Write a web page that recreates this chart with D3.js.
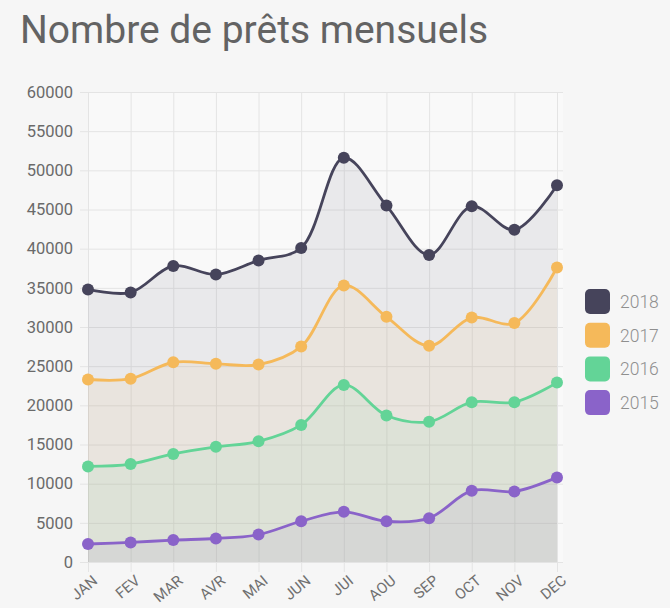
<!DOCTYPE html>
<html>
<head>
<meta charset="utf-8">
<script src="https://cdn.jsdelivr.net/npm/d3@7"></script>
<style>
  html, body { margin: 0; padding: 0; background: #f6f6f6; }
  svg { display: block; }
  text { font-family: Roboto, "Noto Sans", sans-serif; }
</style>
</head>
<body>
<svg id="chart" width="670" height="608"></svg>
<script>
const months = ["JAN","FEV","MAR","AVR","MAI","JUN","JUI","AOU","SEP","OCT","NOV","DEC"];
const yTicks = [0,5000,10000,15000,20000,25000,30000,35000,40000,45000,50000,55000,60000];
const seriesNames = ["2018","2017","2016","2015"];
const v2018 = [34800, 34400, 37800, 36700, 38500, 40100, 51600, 45500, 39200, 45400, 42400, 48100];
const v2017 = [23300, 23400, 25500, 25300, 25200, 27500, 35300, 31300, 27600, 31200, 30500, 37600];
const v2016 = [12200, 12500, 13800, 14700, 15400, 17500, 22600, 18700, 17900, 20400, 20400, 22900];
const v2015 = [2300, 2500, 2800, 3000, 3500, 5200, 6400, 5200, 5600, 9100, 9000, 10800];
const seriesColors = ["#46445b", "#f5b95a", "#63d497", "#8a63c9"];
const chartTitle = "Nombre de prêts mensuels";

const series = [v2018, v2017, v2016, v2015].map((vals, i) => ({
  name: seriesNames[i], color: seriesColors[i], values: vals
}));

const svg = d3.select("#chart");
const mLeft = 88, mRight = 557, mTop = 92, mBottom = 562;

const x = d3.scalePoint().domain(months).range([mLeft, mRight]);
const y = d3.scaleLinear().domain([0, 60000]).range([mBottom, mTop]);

// plot background
svg.append("rect")
  .attr("x", mLeft).attr("y", mTop)
  .attr("width", 563 - mLeft).attr("height", mBottom - mTop)
  .attr("fill", "#f9f9f9");

// title
svg.append("text")
  .attr("x", 20).attr("y", 43)
  .attr("font-size", 39)
  .attr("fill", "#636363")
  .text(chartTitle);

// y axis + horizontal grid
const gridRight = 563;
const yAxis = svg.append("g")
  .attr("transform", `translate(${gridRight},0)`)
  .call(d3.axisLeft(y).tickValues(yTicks).tickSizeInner(gridRight - 80).tickSizeOuter(0).tickPadding(7).tickFormat(d3.format("d")));
yAxis.select(".domain").remove();
yAxis.selectAll("line").attr("stroke", "#e4e4e4");
yAxis.selectAll("text").attr("font-size", 16.5).attr("fill", "#6a6a6a").attr("font-family", "Roboto, sans-serif");

// x axis + vertical grid
const xAxis = svg.append("g")
  .attr("transform", `translate(0,${mTop})`)
  .call(d3.axisBottom(x).tickSizeInner(572 - mTop).tickSizeOuter(0).tickPadding(0));
xAxis.select(".domain").remove();
xAxis.selectAll("line").attr("stroke", "#e4e4e4");
xAxis.selectAll("text")
  .attr("y", null).attr("dy", "0.72em")
  .attr("text-anchor", "end")
  .attr("transform", `translate(3,${574 - mTop}) rotate(-40)`)
  .attr("font-size", 15).attr("fill", "#707070").attr("font-family", "Roboto, sans-serif");

const curve = d3.curveCatmullRom.alpha(0.5);
const area = d3.area()
  .x((d, i) => x(months[i]))
  .y0(y(0))
  .y1(d => y(d))
  .curve(curve);
const line = d3.line()
  .x((d, i) => x(months[i]))
  .y(d => y(d))
  .curve(curve);

// fills
svg.append("g").selectAll("path")
  .data(series)
  .join("path")
  .attr("d", s => area(s.values))
  .attr("fill", s => s.color)
  .attr("fill-opacity", 0.085);

// lines
svg.append("g").selectAll("path")
  .data(series)
  .join("path")
  .attr("d", s => line(s.values))
  .attr("fill", "none")
  .attr("stroke", s => s.color)
  .attr("stroke-width", 2.8);

// points
series.forEach(s => {
  svg.append("g").selectAll("circle")
    .data(s.values)
    .join("circle")
    .attr("cx", (d, i) => x(months[i]))
    .attr("cy", d => y(d))
    .attr("r", 6)
    .attr("fill", s.color);
});

// legend
const legend = svg.append("g");
series.forEach((s, i) => {
  const cy = 301.5 + i * 33.7;
  legend.append("rect")
    .attr("x", 585).attr("y", cy - 12.5)
    .attr("width", 25).attr("height", 25)
    .attr("rx", 5)
    .attr("fill", s.color);
  legend.append("text")
    .attr("x", 620).attr("y", cy)
    .attr("dy", "0.36em")
    .attr("font-size", 17.5)
    .attr("font-weight", 300)
    .attr("fill", "#8f8f8f")
    .text(s.name);
});
</script>
</body>
</html>
